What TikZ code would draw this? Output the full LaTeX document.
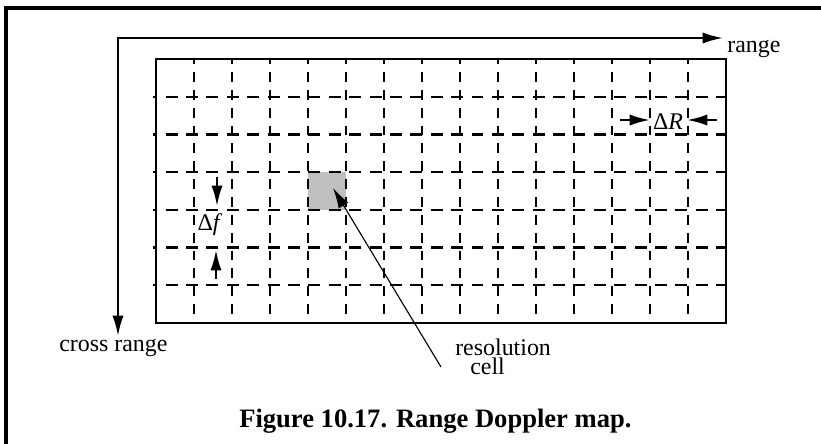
\documentclass[tikz,border=0pt]{standalone}
\usepackage{fontspec}
\setmainfont{Liberation Serif}
\usetikzlibrary{arrows.meta}

\begin{document}
\begin{tikzpicture}[x=0.025cm, y=-0.025cm,
    >={Latex[length=14.5pt,width=8pt]},
    lbl/.style={font=\fontsize{17}{18}\selectfont, inner sep=0pt},
    gridh/.style={line width=1.6pt, dash pattern=on 8.5pt off 6pt, dash phase=5.5pt},
    gridv/.style={line width=1.6pt, dash pattern=on 7pt off 5.7pt, dash phase=3.5pt},
    axis/.style={line width=1.6pt}]
    \useasboundingbox (0,0) rectangle (821,443);
    \clip (0,0) rectangle (821,443);
    % frame
    \draw[line width=2.2pt] (840,8) -- (6,8) -- (6,460);
    % axes
    \coordinate (rangeend) at (723,38);
    \coordinate (corner) at (118,38);
    \coordinate (crossend) at (118,336);
    \draw[axis, <->] (rangeend) -- (corner) -- (crossend);
    \node[lbl, anchor=base west] (rangelbl) at (727,52) {range};
    \node[lbl, anchor=base west] (crosslbl) at (59,351) {cross range};
    % map
    \def\gl{156}
    \def\gt{59}
    \def\gr{726}
    \def\gb{323}
    \def\cw{38}
    \def\ch{37.714}
    \fill[gray!50] (\gl+4*\cw,\gt+3*\ch) rectangle (\gl+5*\cw,\gt+4*\ch);
    \foreach \i in {1,...,14}{
      \draw[gridv] ({\gl+\i*\cw},\gt) -- ({\gl+\i*\cw},\gb);
    }
    \foreach \j in {1,...,6}{
      \draw[gridh] (153,{\gt+\j*\ch}) -- (\gr,{\gt+\j*\ch});
    }
    \draw[line width=1.8pt] (\gl,\gt) rectangle (\gr,\gb);
    % Delta R
    \node[lbl, anchor=base] (dR) at (668,129) {Δ\textit{R}};
    \coordinate (dRa) at (620,120);
    \coordinate (dRb) at (650,120);
    \coordinate (dRc) at (717,120);
    \coordinate (dRd) at (687,120);
    \draw[axis, ->] (dRa) -- (dRb);
    \draw[axis, ->] (dRc) -- (dRd);
    % Delta f
    \node[lbl, anchor=base] (df) at (210,230) {Δ\textit{f}};
    \coordinate (dfa) at (217,177);
    \coordinate (dfb) at (217,206);
    \coordinate (dfc) at (216,279);
    \coordinate (dfd) at (216,250);
    \draw[axis, ->] (dfa) -- (dfb);
    \draw[axis, ->] (dfc) -- (dfd);
    % resolution cell
    \node[lbl, anchor=base west] (resol) at (455,355) {resolution};
    \node[lbl, anchor=base west] (celltxt) at (470,374) {cell};
    \coordinate (celltail) at (441,367);
    \coordinate (celltip) at (333,188);
    \draw[line width=0.8pt, ->] (celltail) -- (celltip);
    % caption
    \node[font=\bfseries\fontsize{18.9}{20}\selectfont, anchor=base west, inner sep=0pt]
      (caption) at (239,427) {Figure 10.17. Range Doppler map.};
\end{tikzpicture}
\end{document}
